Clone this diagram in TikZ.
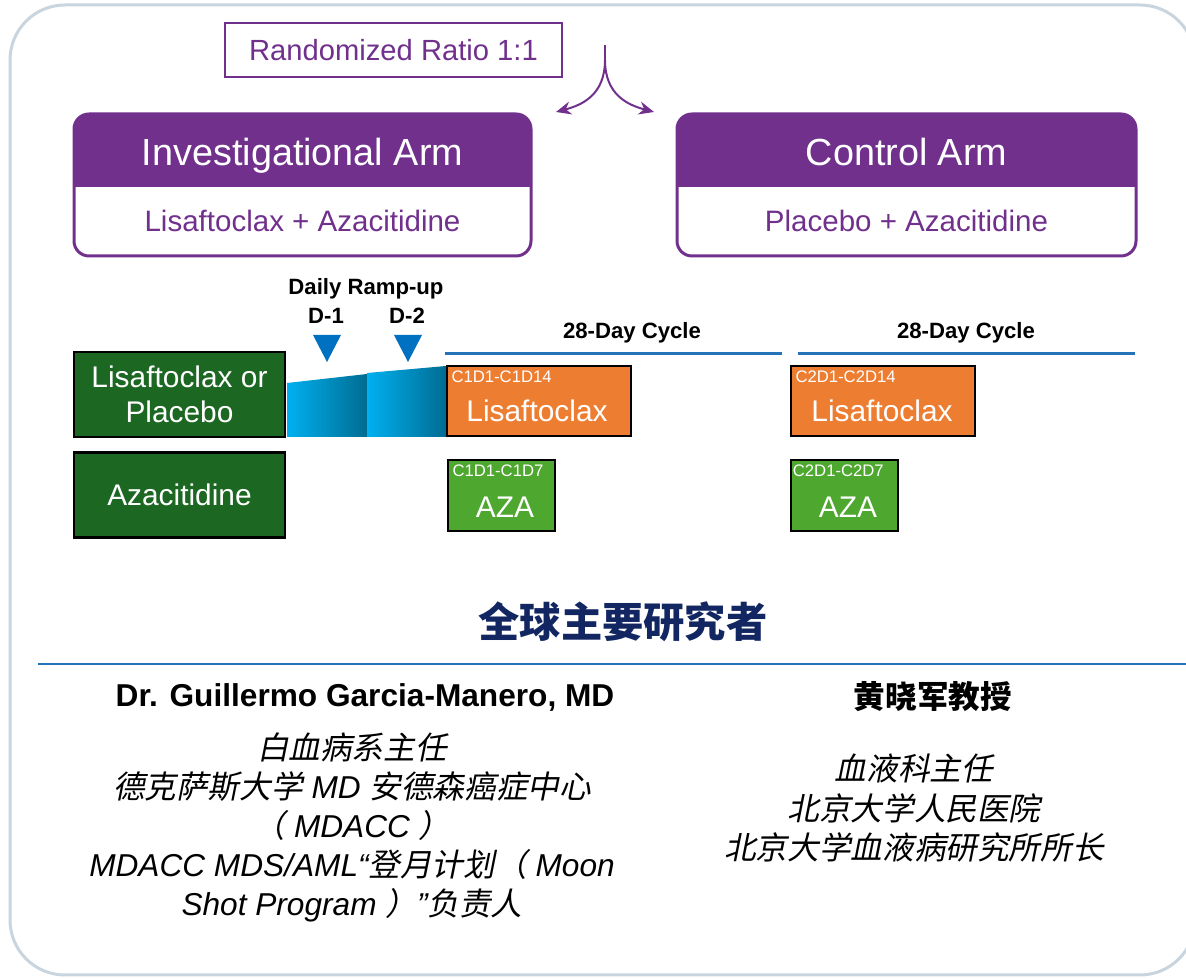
\documentclass[tikz,border=0pt]{standalone}
\usepackage{fontspec}
\setmainfont{Liberation Sans}
\newfontfamily\zhfont{Noto Sans CJK SC}
\newfontfamily\zhslant[FakeSlant=0.2]{Noto Sans CJK SC}
\usetikzlibrary{arrows.meta}
\definecolor{armpurple}{RGB}{112,48,140}
\definecolor{framegray}{RGB}{200,212,222}
\definecolor{darkgreen}{RGB}{28,104,34}
\definecolor{azagreen}{RGB}{78,167,46}
\definecolor{doseorange}{RGB}{237,125,49}
\definecolor{triblue}{RGB}{0,112,192}
\definecolor{lineblue}{RGB}{36,114,184}
\definecolor{rampcyan}{RGB}{0,176,240}
\definecolor{rampteal}{RGB}{0,108,146}
\definecolor{titlenavy}{RGB}{18,38,98}
\newcommand{\zhi}[1]{{\upshape\zhslant #1}}
\tikzset{
  ratiobox/.style={draw=armpurple, line width=0.4mm, text=armpurple, minimum width=67.4mm, minimum height=10.8mm, font=\fontsize{16.6}{19}\selectfont},
  forkline/.style={armpurple, line width=0.4mm},
  armtitle/.style={anchor=base, text=white, font=\fontsize{21.5}{25}\selectfont},
  armdrug/.style={text=armpurple, font=\fontsize{16.8}{20}\selectfont},
  drugbox/.style={draw=black, line width=0.45mm, fill=darkgreen, text=white, align=center, minimum width=42.2mm, minimum height=17mm, font=\fontsize{17}{19.8}\selectfont},
  dosebox/.style={draw=black, line width=0.45mm, fill=doseorange, minimum width=36.8mm, minimum height=14mm},
  azabox/.style={draw=black, line width=0.45mm, fill=azagreen, minimum width=21.4mm, minimum height=14.2mm},
  daylabel/.style={anchor=north west, inner xsep=3pt, inner ysep=3pt, text=white, font=\fontsize{9.5}{11}\selectfont},
  dosename/.style={text=white, font=\fontsize{17}{20}\selectfont},
  daytext/.style={font=\fontsize{12.6}{15}\selectfont\bfseries},
  pitext/.style={align=center, font=\fontsize{18}{22.2}\selectfont\itshape}
}
\begin{document}
\begin{tikzpicture}[x=0.2mm,y=-0.2mm]
\useasboundingbox (0,0) rectangle (1186,979);
\draw[framegray, line width=0.6mm, rounded corners=11mm] (10,5) rectangle (1195,975);

\node[ratiobox] (ratio) at (393.5,50) {Randomized Ratio 1:1};
\coordinate (fork) at (605,45);
\coordinate (forkmid) at (605,60);
\coordinate (toinv) at (556,112);
\coordinate (toctl) at (654,112);
\draw[forkline] (fork) -- (forkmid);
\draw[forkline, -{Stealth[length=3mm,width=2.6mm]}] (forkmid) .. controls (605,95) and (582,105) .. (toinv);
\draw[forkline, -{Stealth[length=3mm,width=2.6mm]}] (forkmid) .. controls (605,95) and (628,105) .. (toctl);

\fill[armpurple, rounded corners=3mm] (74,114) rectangle (531,187);
\fill[armpurple] (74,165) rectangle (531,187);
\draw[armpurple, line width=0.6mm, rounded corners=3mm] (74,114) rectangle (531,256);
\node[armtitle] (invtitle) at (302.5,166) {Investigational Arm};
\node[armdrug] (invdrug) at (302.5,221) {Lisaftoclax + Azacitidine};

\fill[armpurple, rounded corners=3mm] (677,114) rectangle (1136,187);
\fill[armpurple] (677,165) rectangle (1136,187);
\draw[armpurple, line width=0.6mm, rounded corners=3mm] (677,114) rectangle (1136,256);
\node[armtitle] (ctltitle) at (906.5,166) {Control Arm};
\node[armdrug] (ctldrug) at (906.5,221) {Placebo + Azacitidine};

\node[daytext] (ramp) at (366,289) {Daily Ramp-up};
\node[daytext] (dayone) at (326,316) {D-1};
\node[daytext] (daytwo) at (407,316) {D-2};
\fill[triblue] (313,335) -- (341,335) -- (327,362) -- cycle;
\fill[triblue] (394,335) -- (422,335) -- (408,362) -- cycle;
\shade[left color=rampcyan, right color=rampteal] (287,383) -- (367,374) -- (367,437) -- (287,437) -- cycle;
\shade[left color=rampcyan, right color=rampteal] (367,373) -- (446,366) -- (446,437) -- (367,437) -- cycle;

\node[daytext] (cycone) at (632,333) {28-Day Cycle};
\node[daytext] (cyctwo) at (966,333) {28-Day Cycle};
\draw[lineblue, line width=0.6mm] (445,354) -- (782,354);
\draw[lineblue, line width=0.6mm] (798,354) -- (1135,354);

\node[drugbox, text height=35pt, text depth=3.5pt] (lisorpl) at (179.5,394.5) {Lisaftoclax or\\Placebo};
\node[drugbox] (azacit) at (179.5,495) {Azacitidine};

\node[dosebox] (lisone) at (539,401) {};
\node[daylabel] (lisoneday) at (lisone.north west) {C1D1-C1D14};
\node[dosename] (lisonename) at (537,411) {Lisaftoclax};
\node[dosebox] (listwo) at (883,401) {};
\node[daylabel] (listwoday) at (listwo.north west) {C2D1-C2D14};
\node[dosename] (listwoname) at (882,411) {Lisaftoclax};

\node[azabox] (azaone) at (501.5,495.5) {};
\node[daylabel] (azaoneday) at (azaone.north west) {C1D1-C1D7};
\node[dosename] (azaonename) at (505,507) {AZA};
\node[azabox] (azatwo) at (844.5,495.5) {};
\node[daylabel, inner xsep=1.5pt] (azatwoday) at (azatwo.north west) {C2D1-C2D7};
\node[dosename] (azatwoname) at (848,507) {AZA};

\node[text=titlenavy, font=\fontsize{23.5}{26}\selectfont\zhfont\bfseries] (pi) at (623,622) {全球主要研究者};
\draw[lineblue, line width=0.5mm] (38,664) -- (1190,664);

\node[font=\fontsize{18}{21}\selectfont\bfseries] (gm) at (365,697) {Dr. Guillermo Garcia-Manero, MD};
\node[font=\fontsize{18}{21}\selectfont\zhfont\bfseries] (hx) at (933,697) {黄晓军教授};

\node[pitext] (gmrole) at (352,827) {\zhi{白血病系主任}\\
  \zhi{德克萨斯大学} MD \zhi{安德森癌症中心}\\
  \zhi{（} MDACC \zhi{）}\\
  MDACC MDS/AML“\zhi{登月计划（} Moon\\
  Shot Program \zhi{）}”\zhi{负责人}};
\node[pitext] (hxrole) at (914,808) {\zhi{血液科主任}\\
  \zhi{北京大学人民医院}\\
  \zhi{北京大学血液病研究所所长}};
\end{tikzpicture}
\end{document}
